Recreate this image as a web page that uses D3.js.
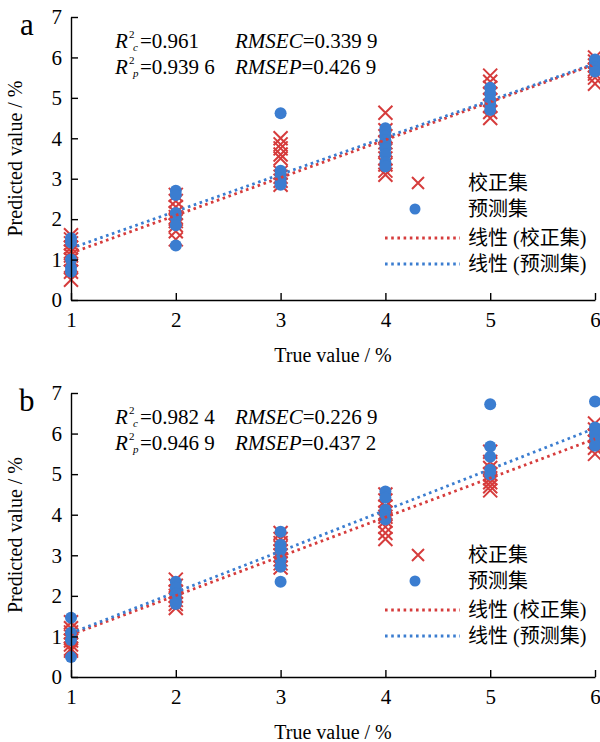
<!DOCTYPE html>
<html><head><meta charset="utf-8">
<script src="https://cdn.jsdelivr.net/npm/d3@7"></script>
<style>body{margin:0;background:#fff}svg{display:block}</style>
</head><body>
<svg id="c" width="600" height="742"></svg>
<script>
// ---- data ----
const xTicks = [1,2,3,4,5,6];
const yTicks = [0,1,2,3,4,5,6,7];
const legendLabels = ["校正集","预测集","线性 (校正集)","线性 (预测集)"];
const xTitle = "True value / %";
const yTitle = "Predicted value / %";

// panel a
const aCalX = [1,1,1,1,1,1,1,1,1,1, 2,2,2,2,2,2,2,2,2, 3,3,3,3,3,3,3,3,3, 4,4,4,4,4,4,4,4,4, 5,5,5,5,5,5,5,5, 6,6,6,6,6,6,6];
const aCalY = [0.5,0.7,0.85,1.0,1.1,1.2,1.3,1.4,1.5,1.6, 1.5,1.7,1.85,1.95,2.05,2.15,2.3,2.45,2.6, 4.0,3.85,3.75,3.6,3.5,3.15,3.05,2.95,2.85, 4.63,4.2,4.05,3.9,3.7,3.5,3.35,3.2,3.1, 5.55,5.4,5.25,5.1,4.95,4.8,4.65,4.5, 6.0,5.9,5.8,5.7,5.6,5.5,5.35];
const aPredX = [1,1,1,1,1, 2,2,2,2,2,2, 3,3,3,3,3,3, 4,4,4,4,4,4,4,4,4, 5,5,5,5,5, 6,6,6,6];
const aPredY = [1.53,1.42,1.0,0.8,0.7, 2.7,2.6,2.15,2.03,1.85,1.35, 4.62,3.2,3.1,3.0,2.9,2.85, 4.25,4.15,4.05,3.95,3.85,3.75,3.6,3.4,3.3, 5.25,5.1,4.95,4.85,4.7, 5.95,5.85,5.75,5.65];
const aCalFit = [[1,1.16],[6,5.83]];
const aPredFit = [[1,1.28],[6,5.85]];
const aStats = {r2c:"=0.961", r2p:"=0.939 6", rmsec:"=0.339 9", rmsep:"=0.426 9"};

// panel b
const bCalX = [1,1,1,1,1,1,1,1, 2,2,2,2,2,2,2, 3,3,3,3,3,3,3,3,3, 4,4,4,4,4,4,4,4,4, 5,5,5,5,5,5,5,5, 6,6,6,6,6,6];
const bCalY = [1.35,1.2,1.1,1.0,0.9,0.8,0.7,0.65, 2.4,2.25,2.1,2.0,1.9,1.8,1.7, 3.55,3.4,3.3,3.2,3.1,3.0,2.9,2.8,2.7, 4.5,4.35,4.2,4.05,3.95,3.85,3.7,3.55,3.4, 5.55,5.3,5.15,5.0,4.9,4.8,4.7,4.6, 6.25,6.1,5.95,5.8,5.65,5.5];
const bPredX = [1,1,1,1, 2,2,2,2,2, 3,3,3,3,3,3, 4,4,4,4,4, 5,5,5,5,5, 6,6,6,6,6];
const bPredY = [1.46,1.09,0.91,0.49, 2.35,2.2,2.05,1.9,1.8, 3.58,3.26,3.13,2.89,2.72,2.35, 4.57,4.42,4.12,4.0,3.88, 6.72,5.68,5.43,5.11,4.99, 6.79,6.15,6.0,5.85,5.7];
const bCalFit = [[1,1.04],[6,5.87]];
const bPredFit = [[1,1.08],[6,6.13]];
const bStats = {r2c:"=0.982 4", r2p:"=0.946 9", rmsec:"=0.226 9", rmsep:"=0.437 2"};

// ---- drawing ----
const RED = "#d63c3c", BLUE = "#3b7dd0";
const svg = d3.select("#c");
const FONT = "'Liberation Serif','Times New Roman',serif";
const CJK = "'Liberation Serif','Noto Sans CJK SC',serif";

const x = d3.scaleLinear().domain([1,6]).range([71,595]);

function panel(cfg){
  const y = d3.scaleLinear().domain([0,7]).range([cfg.y0, cfg.y7]);
  const g = svg.append("g");
  const s = 7;
  const cal = cfg.calX.map((v,i)=>[v,cfg.calY[i]]);
  g.append("g").selectAll("path").data(cal).join("path")
    .attr("d", d=>{const cx=x(d[0]), cy=y(d[1]); return `M${cx-s},${cy-s}L${cx+s},${cy+s}M${cx-s},${cy+s}L${cx+s},${cy-s}`;})
    .attr("stroke", RED).attr("stroke-width", 2).attr("fill","none");
  const pred = cfg.predX.map((v,i)=>[v,cfg.predY[i]]);
  g.append("g").selectAll("circle").data(pred).join("circle")
    .attr("cx", d=>x(d[0])).attr("cy", d=>y(d[1])).attr("r", 6).attr("fill", BLUE);
  const line = d3.line().x(d=>x(d[0])).y(d=>y(d[1]));
  g.append("path").attr("d", line(cfg.calFit)).attr("stroke", RED).attr("stroke-width", 2.8)
    .attr("stroke-dasharray","2.6,3.6").attr("fill","none");
  g.append("path").attr("d", line(cfg.predFit)).attr("stroke", BLUE).attr("stroke-width", 2.8)
    .attr("stroke-dasharray","2.6,3.6").attr("fill","none");
  const ya = g.append("g").attr("transform",`translate(${x(1)},0)`)
    .call(d3.axisLeft(y).tickValues(yTicks).tickSizeInner(-7).tickSizeOuter(0).tickPadding(9).tickFormat(d3.format("d")));
  const xa = g.append("g").attr("transform",`translate(0,${cfg.y0})`)
    .call(d3.axisBottom(x).tickValues(xTicks).tickSizeInner(-7).tickSizeOuter(0).tickPadding(12).tickFormat(d3.format("d")));
  [ya,xa].forEach(a=>{
    a.selectAll("path,line").attr("stroke","#000").attr("stroke-width",1.4);
    a.selectAll("text").attr("font-family",FONT).attr("font-size",21).attr("fill","#000");
  });
  g.append("text").attr("x",333).attr("y",cfg.y0+62).attr("text-anchor","middle")
    .attr("font-family",FONT).attr("font-size",20).text(xTitle);
  g.append("text").attr("transform",`translate(22,${(cfg.y0+cfg.y7)/2}) rotate(-90)`).attr("text-anchor","middle")
    .attr("font-family",FONT).attr("font-size",20).text(yTitle);
  g.append("text").attr("x",cfg.letterX).attr("y",cfg.y7+18).attr("font-family",FONT).attr("font-size",31).text(cfg.letter);
  const st = cfg.stats;
  const rows = [[st.r2c,"c","RMSEC",st.rmsec],[st.r2p,"p","RMSEP",st.rmsep]];
  const tl = g.append("text").attr("font-family",FONT).attr("font-size",21);
  rows.forEach((r,i)=>{
    const by = cfg.y7 + 31 + i*26;
    tl.append("tspan").attr("x",115).attr("y",by).attr("font-style","italic").text("R");
    tl.append("tspan").attr("x",129).attr("y",by-10).attr("font-size",11).text("2");
    tl.append("tspan").attr("x",133).attr("y",by+3).attr("font-size",11).attr("font-style","italic").text(r[1]);
    tl.append("tspan").attr("x",140).attr("y",by).text(r[0]);
  });
  const tr = g.append("text").attr("font-family",FONT).attr("font-size",21);
  rows.forEach((r,i)=>{
    const by = cfg.y7 + 31 + i*26;
    tr.append("tspan").attr("x",235).attr("y",by).attr("font-style","italic").text(r[2]);
    tr.append("tspan").text(r[3]);
  });
  const L = g.append("g");
  const ly = cfg.legY;
  const cx0 = 418;
  L.append("path").attr("d",`M${cx0-6},${ly-6}L${cx0+6},${ly+6}M${cx0-6},${ly+6}L${cx0+6},${ly-6}`)
    .attr("stroke",RED).attr("stroke-width",2).attr("fill","none");
  L.append("circle").attr("cx",415).attr("cy",ly+26).attr("r",5.5).attr("fill",BLUE);
  L.append("line").attr("x1",385).attr("x2",460).attr("y1",ly+55).attr("y2",ly+55)
    .attr("stroke",RED).attr("stroke-width",2.8).attr("stroke-dasharray","2.6,3.6");
  L.append("line").attr("x1",385).attr("x2",460).attr("y1",ly+81).attr("y2",ly+81)
    .attr("stroke",BLUE).attr("stroke-width",2.8).attr("stroke-dasharray","2.6,3.6");
  [0,26,55,81].forEach((dy,i)=>{
    L.append("text").attr("x",468).attr("y",ly+dy+7).attr("font-family",CJK).attr("font-size",20)
      .text(legendLabels[i]);
  });
}

panel({y0:300, y7:17, calX:aCalX, calY:aCalY, predX:aPredX, predY:aPredY, calFit:aCalFit, predFit:aPredFit, stats:aStats, letter:"a", letterX:20, legY:183});
panel({y0:677, y7:393, calX:bCalX, calY:bCalY, predX:bPredX, predY:bPredY, calFit:bCalFit, predFit:bPredFit, stats:bStats, letter:"b", letterX:19, legY:555});
</script>
</body></html>
